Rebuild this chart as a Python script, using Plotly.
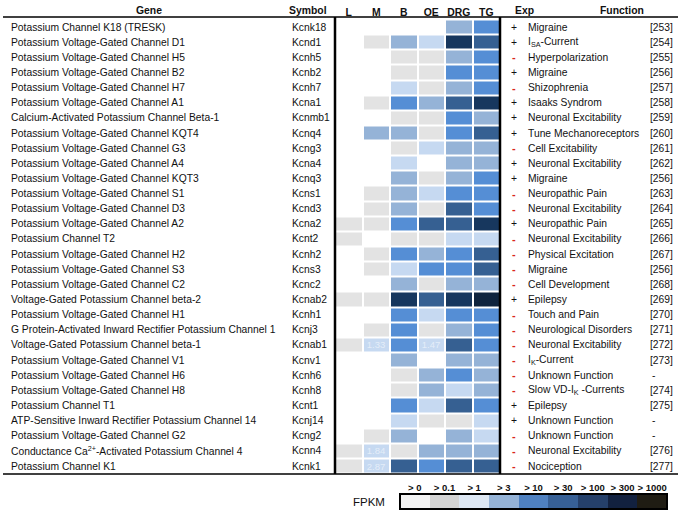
import plotly.graph_objects as go

W, H = 683, 518
FONT = "Liberation Sans"

genes = [
    "Potassium Channel K18 (TRESK)",
    "Potassium Voltage-Gated Channel D1",
    "Potassium Voltage-Gated Channel H5",
    "Potassium Voltage-Gated Channel B2",
    "Potassium Voltage-Gated Channel H7",
    "Potassium Voltage-Gated Channel A1",
    "Calcium-Activated Potassium Channel Beta-1",
    "Potassium Voltage-Gated Channel KQT4",
    "Potassium Voltage-Gated Channel G3",
    "Potassium Voltage-Gated Channel A4",
    "Potassium Voltage-Gated Channel KQT3",
    "Potassium Voltage-Gated Channel S1",
    "Potassium Voltage-Gated Channel D3",
    "Potassium Voltage-Gated Channel A2",
    "Potassium Channel T2",
    "Potassium Voltage-Gated Channel H2",
    "Potassium Voltage-Gated Channel S3",
    "Potassium Voltage-Gated Channel C2",
    "Voltage-Gated Potassium Channel beta-2",
    "Potassium Voltage-Gated Channel H1",
    "G Protein-Activated Inward Rectifier Potassium Channel 1",
    "Voltage-Gated Potassium Channel beta-1",
    "Potassium Voltage-Gated Channel V1",
    "Potassium Voltage-Gated Channel H6",
    "Potassium Voltage-Gated Channel H8",
    "Potassium Channel T1",
    "ATP-Sensitive Inward Rectifier Potassium Channel 14",
    "Potassium Voltage-Gated Channel G2",
    "Conductance Ca<sup>2+</sup>-Activated Potassium Channel 4",
    "Potassium Channel K1",
]
symbols = ["Kcnk18", "Kcnd1", "Kcnh5", "Kcnb2", "Kcnh7", "Kcna1", "Kcnmb1", "Kcnq4",
           "Kcng3", "Kcna4", "Kcnq3", "Kcns1", "Kcnd3", "Kcna2", "Kcnt2", "Kcnh2",
           "Kcns3", "Kcnc2", "Kcnab2", "Kcnh1", "Kcnj3", "Kcnab1", "Kcnv1", "Kcnh6",
           "Kcnh8", "Kcnt1", "Kcnj14", "Kcng2", "Kcnn4", "Kcnk1"]
tissues = ["L", "M", "B", "OE", "DRG", "TG"]

# FPKM bin index: 0 none, 1 >0, 2 >0.1, 3 >1, 4 >3, 5 >10, 6 >30, 7 >100, 8 >300, 9 >1000
fpkm_bins = [
    [0, 0, 0, 0, 4, 5],
    [0, 2, 4, 3, 7, 6],
    [0, 0, 2, 2, 4, 5],
    [0, 0, 2, 2, 5, 5],
    [0, 0, 3, 2, 4, 5],
    [0, 2, 5, 4, 6, 7],
    [0, 0, 2, 2, 5, 4],
    [0, 4, 4, 2, 5, 6],
    [0, 0, 2, 3, 4, 4],
    [0, 0, 3, 0, 4, 4],
    [0, 0, 4, 2, 4, 5],
    [0, 2, 4, 3, 5, 5],
    [0, 2, 4, 2, 6, 5],
    [2, 2, 5, 6, 6, 7],
    [2, 0, 2, 2, 3, 3],
    [0, 2, 5, 4, 5, 6],
    [0, 2, 3, 5, 5, 6],
    [0, 0, 4, 2, 4, 4],
    [2, 2, 7, 6, 7, 8],
    [0, 0, 5, 3, 5, 5],
    [0, 2, 5, 2, 4, 5],
    [2, 3, 5, 3, 6, 5],
    [0, 0, 4, 0, 4, 4],
    [0, 0, 2, 4, 5, 4],
    [0, 0, 2, 4, 3, 4],
    [0, 0, 5, 3, 6, 5],
    [0, 0, 3, 2, 2, 3],
    [0, 2, 4, 0, 4, 3],
    [2, 3, 2, 4, 4, 4],
    [2, 3, 6, 5, 6, 6],
]
cell_values = {("Kcnab1", "M"): "1.33", ("Kcnab1", "OE"): "1.47",
               ("Kcnn4", "M"): "1.84", ("Kcnk1", "M"): "2.87"}

exp_sign = ["+", "+", "-", "+", "-", "+", "+", "+", "-", "+", "+", "-", "-", "+", "-",
            "-", "-", "-", "+", "-", "-", "-", "-", "-", "-", "+", "+", "-", "-", "-"]
functions = [
    "Migraine", "I<sub>SA</sub>-Current", "Hyperpolarization", "Migraine", "Shizophrenia",
    "Isaaks Syndrom", "Neuronal Excitability", "Tune Mechanoreceptors", "Cell Excitability",
    "Neuronal Excitability", "Migraine", "Neuropathic Pain", "Neuronal Excitability",
    "Neuropathic Pain", "Neuronal Excitability", "Physical Excitation", "Migraine",
    "Cell Development", "Epilepsy", "Touch and Pain", "Neurological Disorders",
    "Neuronal Excitability", "I<sub>K</sub>-Current", "Unknown Function",
    "Slow VD-I<sub>K</sub> -Currents", "Epilepsy", "Unknown Function", "Unknown Function",
    "Neuronal Excitability", "Nociception",
]
references = ["[253]", "[254]", "[255]", "[256]", "[257]", "[258]", "[259]", "[260]", "[261]",
              "[262]", "[256]", "[263]", "[264]", "[265]", "[266]", "[267]", "[256]", "[268]",
              "[269]", "[270]", "[271]", "[272]", "[273]", "-", "[274]", "[275]", "-", "-",
              "[276]", "[277]"]

legend_labels = ["> 0", "> 0.1", "> 1", "> 3", "> 10", "> 30", "> 100", "> 300", "> 1000"]
legend_colors = ["#f3f3f3", "#d4d4d4", "#dde7f3", "#95b3d7", "#4f81c1", "#376096",
                 "#25406a", "#12213f", "#1f1c13"]
cell_colors = ["#ffffff", "#f2f2f2", "#e3e3e3", "#c6d9f1", "#95b3d7", "#558ed5",
               "#366092", "#17375e", "#0f243e", "#1d1b10"]


def discrete_scale(colors):
    n = len(colors)
    cs = []
    for i, c in enumerate(colors):
        cs.append([i / n, c])
        cs.append([(i + 1) / n, c])
    return cs


def px(x):
    return x / W


def py(y):
    return 1 - y / H


text_grid = [[cell_values.get((s, t), "") for t in tissues] for s in symbols]

fig = go.Figure()
fig.add_trace(go.Heatmap(
    z=fpkm_bins, x=tissues, y=symbols, text=text_grid, texttemplate="%{text}",
    textfont=dict(family=FONT, size=9.5, color="rgba(255,255,255,0.55)"),
    colorscale=discrete_scale(cell_colors), zmin=-0.5, zmax=len(cell_colors) - 0.5,
    xgap=2, ygap=2, showscale=False, xaxis="x", yaxis="y",
))
fig.add_trace(go.Heatmap(
    z=[list(range(len(legend_labels)))], x=legend_labels, y=["FPKM"],
    colorscale=discrete_scale(legend_colors), zmin=-0.5, zmax=len(legend_colors) - 0.5,
    showscale=False, xaxis="x2", yaxis="y2",
))

annotations = []
body = dict(family=FONT, size=10.3, color="#111111")
for i, s in enumerate(symbols):
    annotations.append(dict(x=px(9), y=s, xref="paper", yref="y", text=genes[i],
                            xanchor="left", yanchor="middle", showarrow=False, font=body))
    annotations.append(dict(x=px(290), y=s, xref="paper", yref="y", text=s,
                            xanchor="left", yanchor="middle", showarrow=False, font=body))
    if exp_sign[i] == "+":
        annotations.append(dict(x=px(513.5), y=s, xref="paper", yref="y", text="+",
                                xanchor="center", yanchor="middle", showarrow=False, font=body))
    else:
        annotations.append(dict(x=px(513.5), y=s, xref="paper", yref="y", text="<b>-</b>",
                                xanchor="center", yanchor="middle", showarrow=False,
                                font=dict(family=FONT, size=11, color="#d9261c")))
    annotations.append(dict(x=px(526), y=s, xref="paper", yref="y", text=functions[i],
                            xanchor="left", yanchor="middle", showarrow=False, font=body))
    annotations.append(dict(x=px(648 if references[i] != "-" else 650), y=s, xref="paper",
                            yref="y", text=references[i], xanchor="left", yanchor="middle",
                            showarrow=False, font=body))

head = dict(family=FONT, size=10.4, color="#111111", weight="bold")
for label, xc in [("Gene", 149), ("Symbol", 308), ("Exp", 524), ("Function", 622)]:
    annotations.append(dict(x=px(xc), y=py(10.5), xref="paper", yref="paper", text=label,
                            xanchor="center", yanchor="middle", showarrow=False, font=head))
annotations.append(dict(x=px(387), y=py(502), xref="paper", yref="paper", text="FPKM",
                        xanchor="right", yanchor="middle", showarrow=False,
                        font=dict(family=FONT, size=11.5, color="#111111")))

shapes = [
    dict(type="line", xref="paper", yref="paper", x0=px(3), x1=px(678), y0=py(17), y1=py(17),
         line=dict(color="black", width=1.5)),
    dict(type="line", xref="paper", yref="paper", x0=px(3), x1=px(678), y0=py(474), y1=py(474),
         line=dict(color="black", width=1.5)),
    dict(type="line", xref="paper", yref="paper", x0=px(335), x1=px(335), y0=py(17), y1=py(474),
         line=dict(color="black", width=2.5)),
    dict(type="line", xref="paper", yref="paper", x0=px(500), x1=px(500), y0=py(17), y1=py(474),
         line=dict(color="black", width=2.5)),
    dict(type="rect", xref="x2 domain", yref="y2 domain", x0=0, x1=1, y0=0, y1=1,
         line=dict(color="black", width=2)),
]

fig.update_layout(
    width=W, height=H, margin=dict(l=0, r=0, t=0, b=0),
    paper_bgcolor="white", plot_bgcolor="white",
    xaxis=dict(domain=[px(335), px(500)], anchor="y", side="top", showgrid=False,
               zeroline=False, ticks="", showline=False,
               tickfont=dict(family=FONT, size=10.4, color="#111111", weight="bold")),
    yaxis=dict(domain=[py(474), py(19.5)], anchor="x", autorange="reversed",
               showticklabels=False, showgrid=False, zeroline=False, ticks=""),
    xaxis2=dict(domain=[px(400), px(667)], anchor="y2", side="top", showgrid=False,
                zeroline=False, ticks="", showline=False,
                tickfont=dict(family=FONT, size=9.5, color="#111111", weight="bold")),
    yaxis2=dict(domain=[py(509), py(494)], anchor="x2", showticklabels=False,
                showgrid=False, zeroline=False, ticks=""),
    annotations=annotations, shapes=shapes, showlegend=False,
)

fig.write_html("out.html", config={"displayModeBar": False},
               post_script="document.body.style.margin='0';document.body.style.overflow='hidden';")
